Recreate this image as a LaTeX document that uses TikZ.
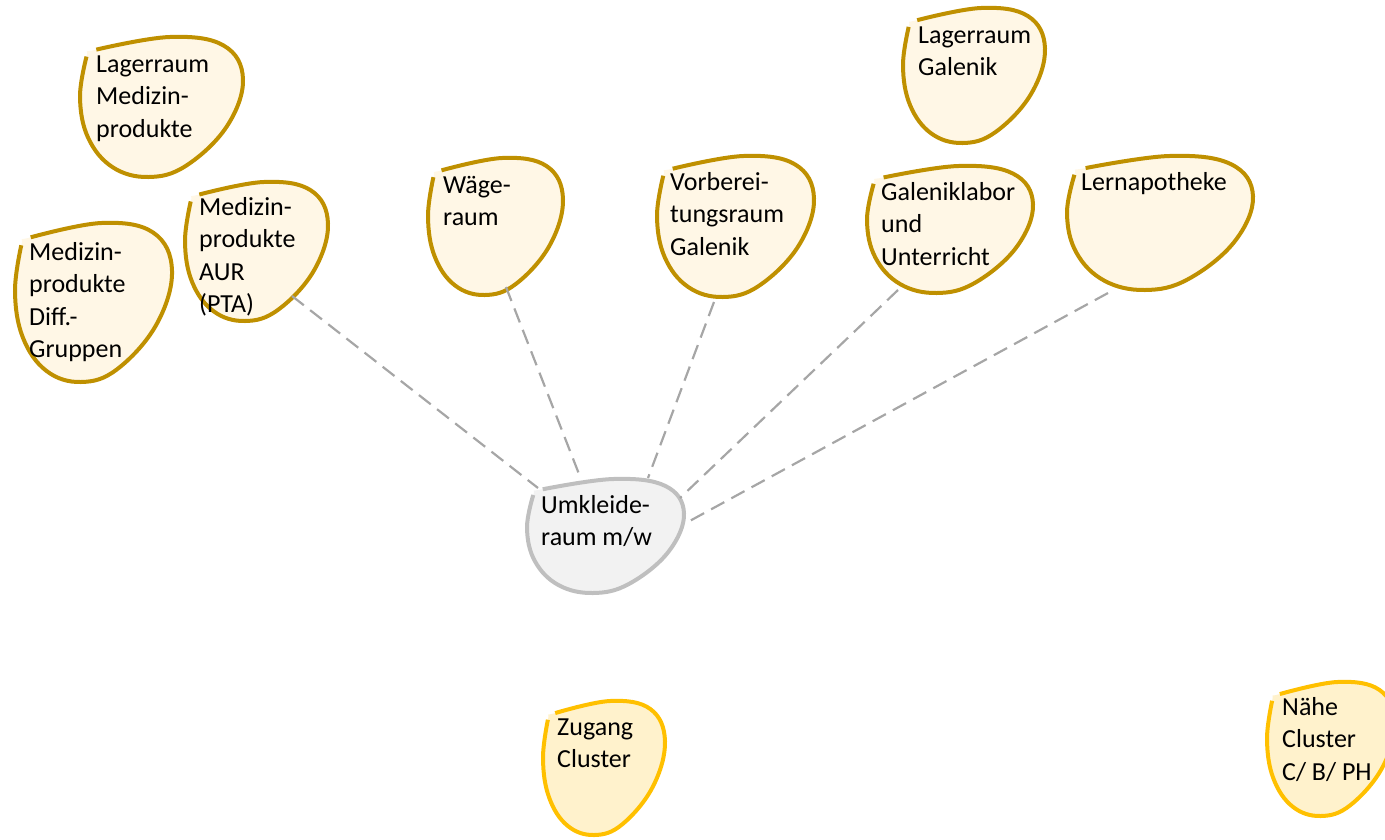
\documentclass[tikz,border=0pt]{standalone}
\usepackage{fontspec}
\setmainfont{Carlito}
\definecolor{goldline}{HTML}{BF9000}
\definecolor{goldfill}{HTML}{FFF7E6}
\definecolor{yelline}{HTML}{FFC000}
\definecolor{yelfill}{HTML}{FFF2CC}
\definecolor{greyline}{HTML}{BFBFBF}
\definecolor{greyfill}{HTML}{F2F2F2}
\definecolor{linkgrey}{HTML}{A6A6A6}
\newcommand{\drawblob}[6]{%
  \fill[#6] plot[smooth cycle, tension=0.65] coordinates {
    ({#1+0.04*#3},{#2+0.14*#4}) ({#1+0*#3},{#2+0.43*#4}) ({#1+0.05*#3},{#2+0.72*#4})
    ({#1+0.2*#3},{#2+0.93*#4}) ({#1+0.42*#3},{#2+1*#4}) ({#1+0.65*#3},{#2+0.92*#4})
    ({#1+0.9*#3},{#2+0.64*#4}) ({#1+1*#3},{#2+0.3*#4}) ({#1+0.88*#3},{#2+0.06*#4})
    ({#1+0.55*#3},{#2+0*#4}) ({#1+0.10*#3},{#2+0.09*#4})};
  \draw[#5, line width=4pt] plot[smooth, tension=0.65] coordinates {
    ({#1+0.04*#3},{#2+0.14*#4}) ({#1+0*#3},{#2+0.43*#4}) ({#1+0.05*#3},{#2+0.72*#4})
    ({#1+0.2*#3},{#2+0.93*#4}) ({#1+0.42*#3},{#2+1*#4}) ({#1+0.65*#3},{#2+0.92*#4})
    ({#1+0.9*#3},{#2+0.64*#4}) ({#1+1*#3},{#2+0.3*#4}) ({#1+0.88*#3},{#2+0.06*#4})
    ({#1+0.55*#3},{#2+0*#4}) ({#1+0.10*#3},{#2+0.09*#4})};
}
\newcommand{\ltext}[1]{\parbox[t]{300pt}{\raggedright #1}}
\begin{document}
\begin{tikzpicture}[x=1pt,y=-1pt,
  lbl/.style={anchor=base west, inner sep=0pt, font=\fontsize{26}{32.5}\selectfont, text=black},
  link/.style={draw=linkgrey, line width=2.2pt, dash pattern=on 15pt off 8pt}]
\useasboundingbox (0,0) rectangle (1385,839);
% blobs
\drawblob{80}{37}{163}{140}{goldline}{goldfill}
\drawblob{15}{223}{157}{159}{goldline}{goldfill}
\drawblob{185}{182}{143}{139}{goldline}{goldfill}
\drawblob{428}{158}{135}{137}{goldline}{goldfill}
\drawblob{657}{156}{157}{141}{goldline}{goldfill}
\drawblob{903}{8}{142}{135}{goldline}{goldfill}
\drawblob{867}{166}{166}{127}{goldline}{goldfill}
\drawblob{1067}{156}{186}{134}{goldline}{goldfill}
\drawblob{527}{479}{157}{114}{greyline}{greyfill}
\drawblob{543}{701}{122}{134}{yelline}{yelfill}
\drawblob{1267}{682}{128}{134}{yelline}{yelfill}
% connectors
\coordinate (aurE) at (292,296);
\coordinate (waeE) at (506,287);
\coordinate (vorE) at (714,302);
\coordinate (galE) at (898,290);
\coordinate (lerE) at (1108,293);
\coordinate (umkA) at (538,488);
\coordinate (umkB) at (579,474);
\coordinate (umkC) at (648,478);
\coordinate (umkD) at (680,498);
\coordinate (umkE) at (686,523);
\draw[link] (aurE) -- (umkA);
\draw[link] (waeE) -- (umkB);
\draw[link] (vorE) -- (umkC);
\draw[link] (galE) -- (umkD);
\draw[link] (lerE) -- (umkE);
% labels
\node[lbl] (lagmed) at (96,72) {\ltext{Lagerraum\\Medizin-\\produkte}};
\node[lbl] (diff) at (29,260) {\ltext{Medizin-\\produkte\\Diff.-\\Gruppen}};
\node[lbl] (aur) at (199,215) {\ltext{Medizin-\\produkte\\AUR\\(PTA)}};
\node[lbl] (wae) at (443,193) {\ltext{Wäge-\\raum}};
\node[lbl] (vor) at (670,190) {\ltext{Vorberei-\\tungsraum\\Galenik}};
\node[lbl] (laggal) at (918,43) {\ltext{Lagerraum\\Galenik}};
\node[lbl] (gal) at (881,200) {\ltext{Galeniklabor\\und\\Unterricht}};
\node[lbl] (ler) at (1081,190) {\ltext{Lernapotheke}};
\node[lbl] (umk) at (541,513) {\ltext{Umkleide-\\raum m/w}};
\node[lbl] (zug) at (557,735) {\ltext{Zugang\\Cluster}};
\node[lbl] (nae) at (1282,715) {\ltext{Nähe\\Cluster\\C/ B/ PH}};
\end{tikzpicture}
\end{document}
